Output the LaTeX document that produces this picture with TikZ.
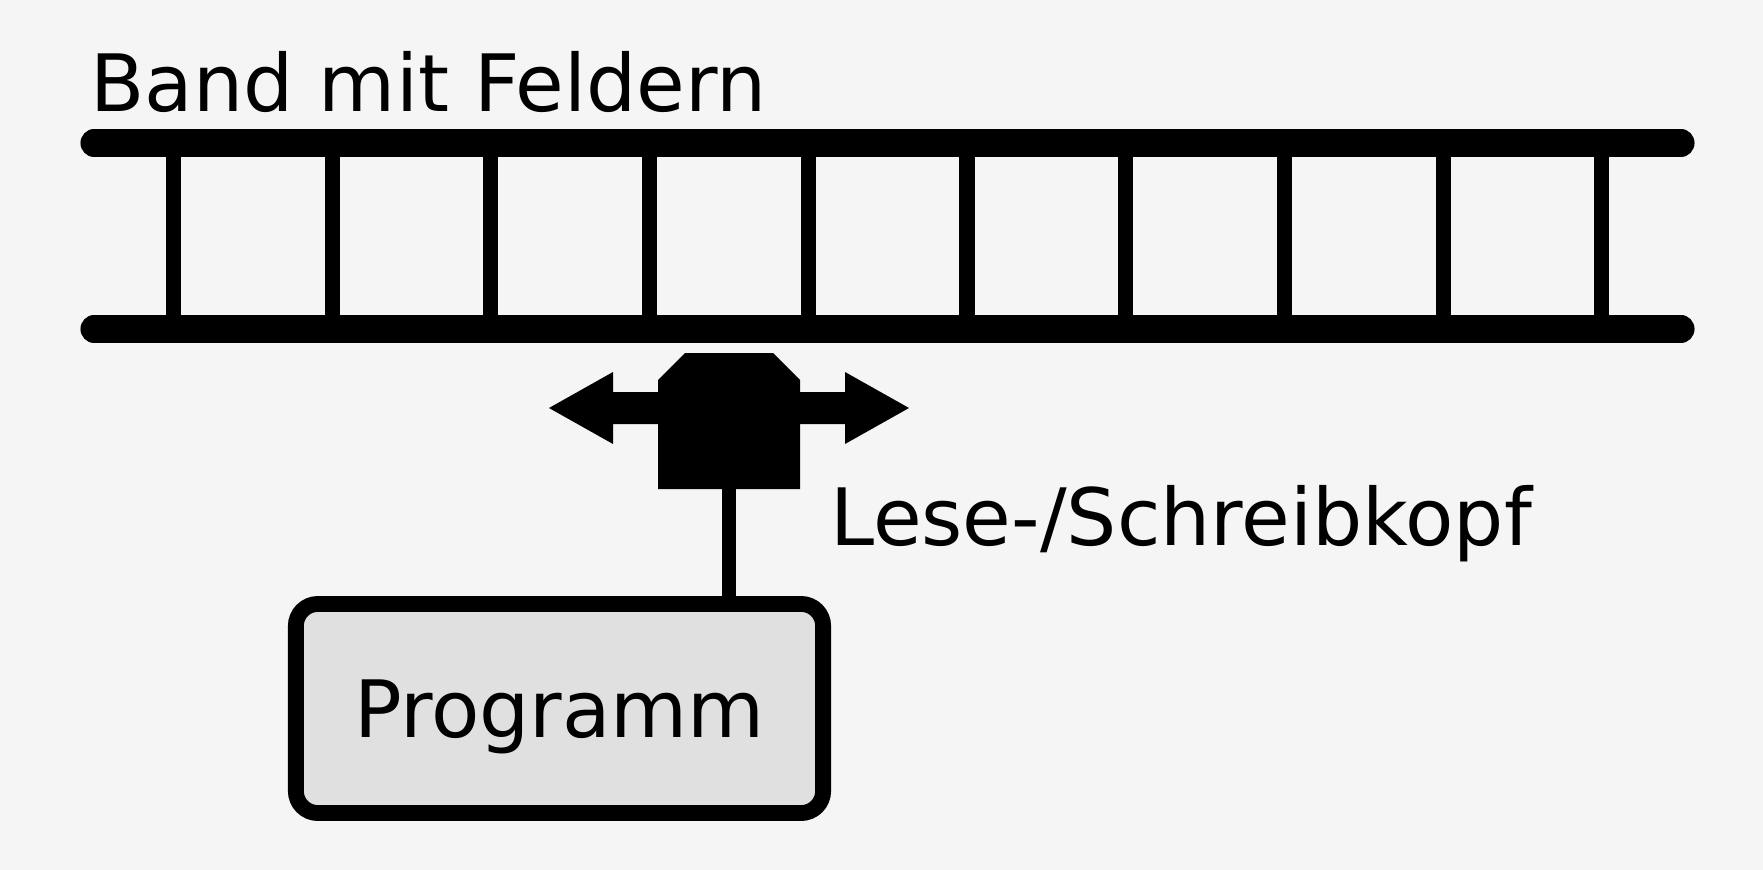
\documentclass[tikz,border=0pt]{standalone}
\usepackage{fontspec}
\setmainfont{DejaVu Sans}
\usepackage{tikz}
\usetikzlibrary{positioning}
\usepackage{xcolor}
\definecolor{paper}{HTML}{F5F5F5}
\definecolor{inkblack}{HTML}{000000}
\definecolor{progfill}{HTML}{E0E0E0}

\begin{document}
\begin{tikzpicture}[x=0.01cm, y=-0.01cm,
  tapeline/.style={line width=7.7pt, line cap=round, draw=inkblack},
  cellbar/.style={line width=4.3pt, draw=inkblack},
  stemline/.style={line width=4.1pt, draw=inkblack},
  labeltext/.style={inner sep=0pt, anchor=base west, text=inkblack, font=\fontsize{22.5pt}{27pt}\selectfont},
  progbox/.style={rectangle, draw=inkblack, line width=4.5pt, fill=progfill, rounded corners=0.22cm,
    minimum width=5.27cm, minimum height=2.09cm, text height=16.4pt, text depth=0pt,
    font=\fontsize{22.5pt}{27pt}\selectfont}]
\useasboundingbox (0,0) rectangle (1763,870);
\fill[paper] (0,0) rectangle (1763,870);

% the tape: cells first, then the two long edges
\foreach \i in {0,...,9}
  \draw[cellbar] (173.5+158.7*\i,143) -- (173.5+158.7*\i,329);
\draw[tapeline] (94,143) -- (1681,143);
\draw[tapeline] (94,329) -- (1681,329);
\node[labeltext] (band) at (90,111.7) {Band mit Feldern};

% read/write head with its two arrows
\fill[inkblack] (685,353) -- (773,353) -- (800,380) -- (800,392) -- (845,392) -- (845,372)
  -- (909,408) -- (845,444) -- (845,424) -- (800,424) -- (800,489) -- (658,489)
  -- (658,424) -- (613,424) -- (613,444) -- (549,408) -- (613,372) -- (613,392)
  -- (658,392) -- (658,380) -- cycle;
\coordinate (head) at (729,489);
\node[labeltext] (headlabel) at (829.6,545) {Lese-/Schreibkopf};

% program box hanging under the head
\node[progbox] (prog) at (559.5,708.5) {Programm};
\draw[stemline] (head) -- (head |- prog.north);
\end{tikzpicture}
\end{document}
